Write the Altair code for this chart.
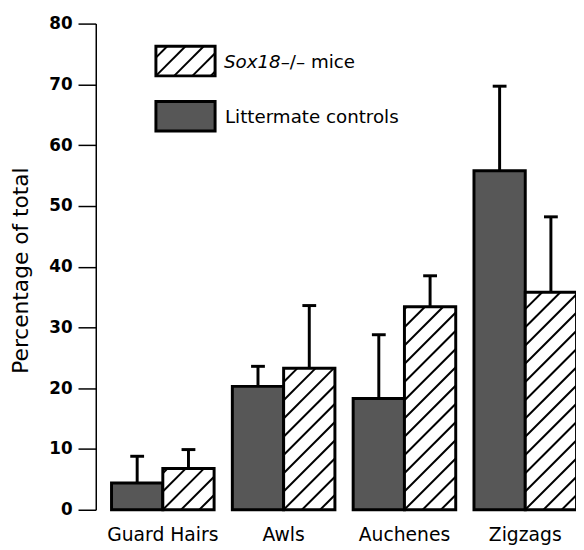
import altair as alt
import pandas as pd
import numpy as np

# ---------------- data ----------------
categories = ["Guard Hairs", "Awls", "Auchenes", "Zigzags"]
control_mean = [4.4, 20.3, 18.3, 55.8]
control_err = [4.4, 3.3, 10.5, 13.9]
mutant_mean = [6.8, 23.3, 33.4, 35.8]
mutant_err = [3.1, 10.3, 5.1, 12.4]
y_ticks = [0, 10, 20, 30, 40, 50, 60, 70, 80]
legend_mutant_italic = "Sox18"
legend_mutant_rest = "\u2013/\u2013 mice"
legend_control = "Littermate controls"
y_title = "Percentage of total"

# ---------------- layout / style ----------------
W, H = 487, 493
XDOM = [-0.555, 3.42]
YDOM = [0, 80]
BW = 0.4245           # bar width in group units
P = 18.5              # hatch period (px)
FONT = "DejaVu Sans"
DARK = "#575757"

kx = W / (XDOM[1] - XDOM[0])
ky = H / (YDOM[1] - YDOM[0])


def px_x(x):
    return (x - XDOM[0]) * kx


def px_y(y):
    return (YDOM[1] - y) * ky


def dx(p):
    return XDOM[0] + p / kx


def dy(p):
    return YDOM[1] - p / ky


def hatch(L, R, T, B):
    segs = []
    c0 = L + B
    kmin = int(np.ceil((L + T - c0) / P))
    kmax = int(np.floor((R + B - c0) / P))
    for k in range(kmin, kmax + 1):
        c = c0 + k * P
        xa = max(L, c - B)
        xb = min(R, c - T)
        if xb - xa > 0.5:
            segs.append((dx(xa), dy(c - xa), dx(xb), dy(c - xb)))
    return segs


rows = []
for i, cat in enumerate(categories):
    rows.append(dict(cat=cat, grp="control", x0=i - BW, x1=i, v=control_mean[i],
                     e=control_mean[i] + control_err[i]))
    rows.append(dict(cat=cat, grp="mutant", x0=i, x1=i + BW, v=mutant_mean[i],
                     e=mutant_mean[i] + mutant_err[i]))
bars = pd.DataFrame(rows)
bars["zero"] = 0.0
bars["cx"] = (bars.x0 + bars.x1) / 2
cap_half = 7 / kx
bars["c0"] = bars.cx - cap_half
bars["c1"] = bars.cx + cap_half

# legend boxes (pixel positions inside the plot)
LEG_L, LEG_R = 61, 121
LEG_H_T, LEG_H_B = 23, 53
LEG_D_T, LEG_D_B = 79, 109
legend_boxes = pd.DataFrame([
    dict(grp="mutant", x0=dx(LEG_L), x1=dx(LEG_R), y0=dy(LEG_H_B), y1=dy(LEG_H_T)),
    dict(grp="control", x0=dx(LEG_L), x1=dx(LEG_R), y0=dy(LEG_D_B), y1=dy(LEG_D_T)),
])

segs = []
for _, r in bars[bars.grp == "mutant"].iterrows():
    segs += hatch(px_x(r.x0), px_x(r.x1), px_y(r.v), px_y(0))
segs += hatch(LEG_L, LEG_R, LEG_H_T, LEG_H_B)
hatch_df = pd.DataFrame(segs, columns=["hx0", "hy0", "hx1", "hy1"])

labels_df = pd.DataFrame({"cat": categories, "xi": list(range(len(categories)))})

# ---------------- chart ----------------
xs = alt.Scale(domain=XDOM, nice=False, zero=False)
ys = alt.Scale(domain=YDOM, nice=False, zero=False)
yaxis = alt.Axis(
    values=y_ticks, grid=False, tickSize=18, tickWidth=1.5, tickColor="black",
    domainColor="black", domainWidth=1.5, labelFont=FONT, labelFontSize=17,
    labelFontWeight="bold", labelColor="black", labelPadding=6,
    title=y_title, titleFont=FONT, titleFontSize=22, titleFontWeight="normal",
    titleColor="black", titleAngle=270, titleX=-69, titleY=250,
    titleAlign="center", titleBaseline="alphabetic",
)


def X(f):
    return alt.X(f, type="quantitative", scale=xs, axis=None)


def Y(f):
    return alt.Y(f, type="quantitative", scale=ys, axis=yaxis)


ctrl = bars[bars.grp == "control"]
mut = bars[bars.grp == "mutant"]
leg_mut = legend_boxes[legend_boxes.grp == "mutant"]
leg_ctrl = legend_boxes[legend_boxes.grp == "control"]

dark_bars = alt.Chart(ctrl).mark_rect(fill=DARK, stroke="black", strokeWidth=3).encode(
    x=X("x0"), x2="x1", y=Y("zero"), y2="v")
white_bars = alt.Chart(mut).mark_rect(fill="white").encode(
    x=X("x0"), x2="x1", y=Y("zero"), y2="v")
leg_white = alt.Chart(leg_mut).mark_rect(fill="white").encode(
    x=X("x0"), x2="x1", y=Y("y0"), y2="y1")
hatch_lines = alt.Chart(hatch_df).mark_rule(color="black", strokeWidth=2).encode(
    x=X("hx0"), x2="hx1", y=Y("hy0"), y2="hy1")
mut_outline = alt.Chart(mut).mark_rect(fillOpacity=0, stroke="black", strokeWidth=3).encode(
    x=X("x0"), x2="x1", y=Y("zero"), y2="v")
leg_outline = alt.Chart(leg_mut).mark_rect(
    fillOpacity=0, stroke="black", strokeWidth=3).encode(x=X("x0"), x2="x1", y=Y("y0"), y2="y1")
leg_dark = alt.Chart(leg_ctrl).mark_rect(
    fill=DARK, stroke="black", strokeWidth=3).encode(x=X("x0"), x2="x1", y=Y("y0"), y2="y1")
err_lines = alt.Chart(bars).mark_rule(color="black", strokeWidth=3).encode(
    x=X("cx"), y=Y("v"), y2="e")
err_caps = alt.Chart(bars).mark_rule(color="black", strokeWidth=3).encode(
    x=X("c0"), x2="c1", y=Y("e"))

LFS = 18.5
t1 = alt.Chart(pd.DataFrame({"t": [legend_mutant_italic]})).mark_text(
    font=FONT, fontSize=LFS, fontStyle="italic", align="left", baseline="alphabetic",
    color="black").encode(text="t:N", x=alt.value(130), y=alt.value(45))
t2 = alt.Chart(pd.DataFrame({"t": [legend_mutant_rest]})).mark_text(
    font=FONT, fontSize=LFS, align="left", baseline="alphabetic",
    color="black").encode(text="t:N", x=alt.value(130 + 3.111 * LFS), y=alt.value(45))
t3 = alt.Chart(pd.DataFrame({"t": [legend_control]})).mark_text(
    font=FONT, fontSize=LFS, align="left", baseline="alphabetic",
    color="black").encode(text="t:N", x=alt.value(131), y=alt.value(101))

xlabels = alt.Chart(labels_df).mark_text(
    font=FONT, fontSize=19, align="center", baseline="alphabetic", color="black").encode(
    x=X("xi"), y=alt.value(H + 32), text="cat:N")

chart = alt.layer(
    dark_bars, white_bars, leg_white, hatch_lines, mut_outline, leg_outline, leg_dark,
    err_lines, err_caps, t1, t2, t3, xlabels,
).properties(
    width=W, height=H,
    padding={"left": 89, "top": 12, "right": 0, "bottom": 37},
    autosize=alt.AutoSizeParams(type="none"),
    background="white",
).configure_view(stroke=None)

chart.save("out.html", embed_options={"renderer": "svg", "actions": False})
